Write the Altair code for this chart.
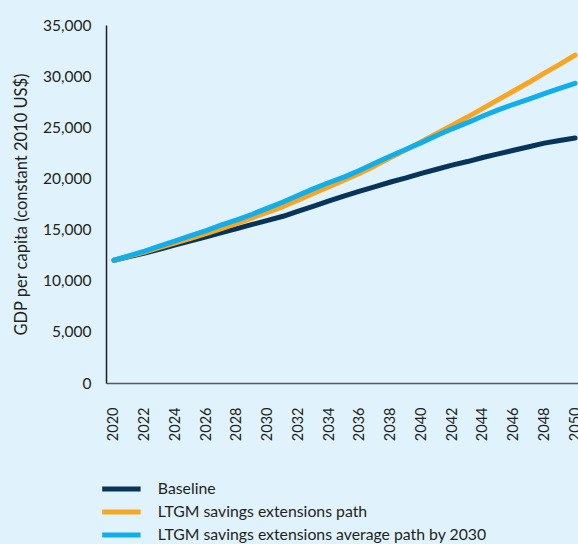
import altair as alt
import pandas as pd

years = list(range(2020, 2051))

baseline = [12000, 12350, 12700, 13100, 13500, 13900, 14300, 14700, 15100, 15500,
            15900, 16300, 16800, 17300, 17800, 18300, 18750, 19200, 19650, 20050,
            20500, 20900, 21300, 21650, 22050, 22400, 22750, 23100, 23450, 23700,
            23950]
savings_path = [12000, 12400, 12800, 13250, 13700, 14150, 14600, 15100, 15600, 16150,
                16700, 17250, 17900, 18550, 19200, 19850, 20500, 21250, 22050, 22800,
                23600, 24400, 25200, 26000, 26850, 27700, 28550, 29400, 30300, 31150,
                32050]
average_path = [12000, 12450, 12900, 13400, 13900, 14400, 14900, 15450, 15950, 16500,
                17100, 17700, 18350, 19000, 19600, 20150, 20800, 21500, 22200, 22850,
                23500, 24200, 24850, 25450, 26100, 26700, 27250, 27750, 28300, 28800,
                29300]

series_names = ["Baseline", "LTGM savings extensions path",
                "LTGM savings extensions average path by 2030"]
series_colors = ["#06345A", "#F6A623", "#10AEEA"]
x_ticks = list(range(2020, 2051, 2))
y_ticks = [0, 5000, 10000, 15000, 20000, 25000, 30000, 35000]

rows = []
for name, vals in zip(series_names, [baseline, savings_path, average_path]):
    for y, v in zip(years, vals):
        rows.append({"year": y, "value": v, "series": name})
df = pd.DataFrame(rows)

FONT = "Lato"
TXT = "#231F20"

chart = alt.Chart(df).mark_line(strokeWidth=5, strokeCap="round", strokeJoin="round").encode(
    x=alt.X("year:Q",
            scale=alt.Scale(domain=[2019.48, 2050.19], nice=False, zero=False),
            axis=alt.Axis(values=x_ticks, format="d", labelAngle=270, labelPadding=24,
                          ticks=False, grid=False, title=None, labelFontSize=14.5,
                          labelFont=FONT, labelColor=TXT, domainColor="#5A5A5A",
                          domainWidth=1.5, labelOverlap=False)),
    y=alt.Y("value:Q",
            scale=alt.Scale(domain=[0, 35000], nice=False),
            axis=alt.Axis(values=y_ticks, format=",.0f", ticks=False, grid=False,
                          labelPadding=15, labelFontSize=15.5, labelFont=FONT,
                          labelColor=TXT, domainColor="#231F20", domainWidth=1.5,
                          title="GDP per capita (constant 2010 US$)",
                          titleFont=FONT, titleFontSize=16.5, titleFontWeight="normal",
                          titleColor=TXT, titlePadding=13)),
    color=alt.Color("series:N",
                    scale=alt.Scale(domain=series_names, range=series_colors),
                    legend=alt.Legend(title=None, orient="none", legendX=7.5, legendY=456,
                                      symbolType="M-4.8,0L4.8,0", symbolSize=64,
                                      symbolStrokeWidth=5, labelFont=FONT,
                                      labelFontSize=15.8, labelColor=TXT,
                                      labelOffset=28.5, rowPadding=2, padding=0,
                                      labelLimit=500)),
    order=alt.Order("sidx:Q"),
).transform_calculate(
    sidx="indexof(['Baseline','LTGM savings extensions path','LTGM savings extensions average path by 2030'], datum.series)"
).properties(
    width=472, height=358,
    autosize=alt.AutoSizeParams(type="none"),
    padding={"left": 106, "top": 25, "right": 0, "bottom": 161},
    background="#E0F2FC",
).configure_view(stroke=None)

chart.save("out.html", embed_options={"renderer": "svg", "actions": False})
